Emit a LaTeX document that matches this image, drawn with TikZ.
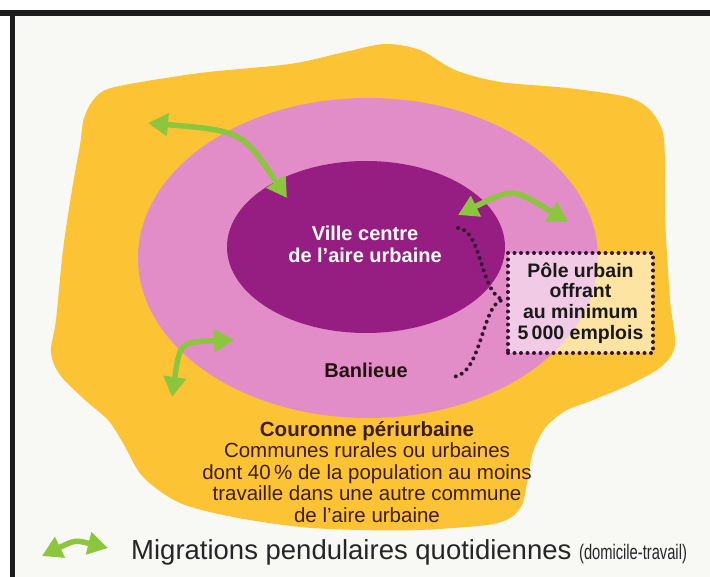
\documentclass[tikz,border=0pt]{standalone}
\usepackage{fontspec}
\setmainfont{Liberation Sans}
\usetikzlibrary{arrows.meta}

\definecolor{paper}{RGB}{248,248,245}
\definecolor{frame}{RGB}{28,28,28}
\definecolor{couronne}{RGB}{252,196,52}
\definecolor{banlieue}{RGB}{226,140,200}
\definecolor{villecentre}{RGB}{150,30,130}
\definecolor{migrgreen}{RGB}{140,198,63}
\definecolor{brun}{RGB}{60,30,22}
\definecolor{pointille}{RGB}{50,20,50}

\tikzset{
    migration/.style={draw=migrgreen, line width=5.5pt,
        {Triangle[length=20pt,width=22pt]}-{Triangle[length=20pt,width=22pt]}},
    legende/.style={inner sep=0pt, align=center},
    pointilles/.style={draw=pointille, line width=4pt, line cap=round,
        dash pattern=on 0pt off 6.5pt},
}

\begin{document}
\begin{tikzpicture}[x=1pt, y=-1pt]
    \useasboundingbox (0, 0) rectangle (710, 577);
    \fill[white] (0, 0) rectangle (710, 577);
    \fill[paper] (15, 16) rectangle (710, 577);
    \fill[frame] (0, 10) rectangle (710, 16);
    \fill[frame] (10, 10) rectangle (15, 577);

    % couronne periurbaine
    \fill[couronne] plot[smooth cycle] coordinates {
        (84,118) (95,98) (115,87) (200,73) (290,64) (345,52) (385,44)
        (420,50) (455,70) (500,82) (567,88) (627,97) (650,110) (663,133)
        (665,170) (665,217) (670,300) (675,345) (662,366) (633,383)
        (593,400) (565,411) (545,428) (533,452) (527,483) (522,505)
        (510,518) (487,525) (420,530) (360,530) (300,527) (233,517)
        (180,503) (143,477) (123,443) (108,420) (85,400) (60,375)
        (51,352) (56,320) (63,250) (72,190) (80,145)};

    \fill[banlieue] (368, 258) ellipse [x radius=230pt, y radius=160pt];
    \fill[villecentre] (366, 247) ellipse [x radius=139pt, y radius=86pt];

    \node[legende, text=white, font=\bfseries\fontsize{20}{22}\selectfont]
        (ville) at (365, 244) {Ville centre\\de l'aire urbaine};
    \node[legende, text=brun!60!black, font=\bfseries\fontsize{20}{22}\selectfont]
        (banl) at (366, 370) {Banlieue};
    \node[legende, text=brun, font=\fontsize{20.5}{21.5}\selectfont]
        (cour) at (367, 472) {\textbf{Couronne périurbaine}\\Communes rurales ou urbaines\\
        dont 40\,\% de la population au moins\\travaille dans une autre commune\\
        de l'aire urbaine};

    % pole urbain
    \node[legende, pointilles, fill=white, fill opacity=0.55, text opacity=1,
        text=black!90, minimum width=145pt, minimum height=100pt,
        font=\bfseries\fontsize{19.5}{20.7}\selectfont]
        (pole) at (580.5, 303) {Pôle urbain\\offrant\\au minimum\\5\,000 emplois};

    \coordinate (bt) at (458, 228);
    \coordinate (btip) at (503, 300);
    \coordinate (bb) at (453, 377);
    \draw[pointilles] (bt) .. controls (482, 230) and (480, 292) .. (btip)
        .. controls (482, 302) and (482, 375) .. (bb);

    % migrations
    \coordinate (a1) at (148, 123);
    \coordinate (a2) at (287, 198);
    \draw[migration] (a1) .. controls (242, 131) .. (a2);

    \coordinate (b1) at (458, 215);
    \coordinate (b2) at (568, 222);
    \draw[migration] (b1) .. controls (513, 188) .. (b2);

    \coordinate (c1) at (234, 340);
    \coordinate (c2) at (172, 397);
    \draw[migration] (c1) .. controls (180, 342) .. (c2);

    % legende
    \coordinate (l1) at (42, 556);
    \coordinate (l2) at (108, 548);
    \draw[migration] (l1) .. controls (75, 540) .. (l2);
    \node[legende, anchor=base west, text=black!85] (migr) at (131, 559)
        {\fontsize{27.5}{30}\selectfont Migrations pendulaires quotidiennes
        \scalebox{0.7}[1]{\fontsize{21}{24}\selectfont (domicile-travail)}};
\end{tikzpicture}
\end{document}
